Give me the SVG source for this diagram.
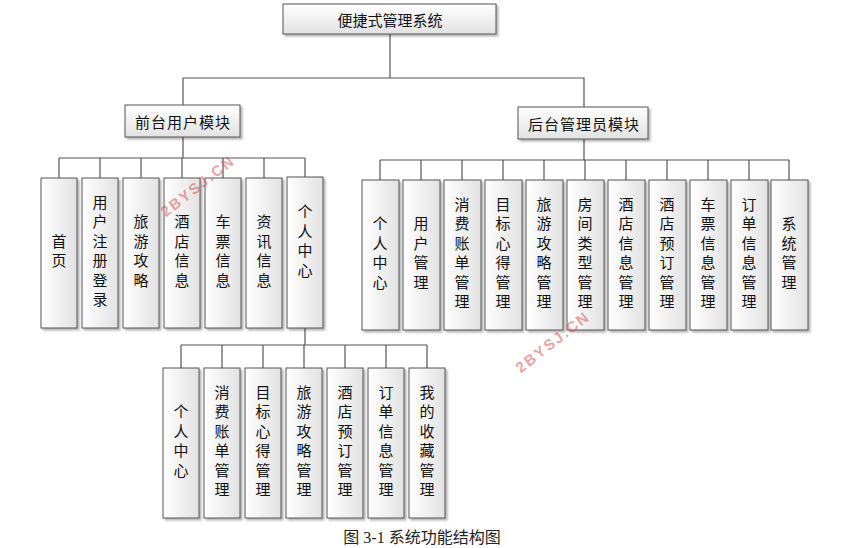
<svg xmlns="http://www.w3.org/2000/svg" width="845" height="548" viewBox="0 0 845 548">
<defs>
<linearGradient id="g" x1="0" y1="0" x2="1" y2="0"><stop offset="0" stop-color="#ffffff"/><stop offset="1" stop-color="#e2e2e2"/></linearGradient>
<linearGradient id="gh" x1="0" y1="0" x2="0" y2="1"><stop offset="0" stop-color="#ffffff"/><stop offset="1" stop-color="#e2e2e2"/></linearGradient>
<filter id="sh" x="-20%" y="-20%" width="150%" height="150%"><feDropShadow dx="2" dy="2" stdDeviation="1" flood-color="#000" flood-opacity="0.3"/></filter>
</defs>
<style>
.b{fill:url(#g);stroke:#555;stroke-width:1;filter:url(#sh)}
.h{fill:url(#gh);stroke:#555;stroke-width:1;filter:url(#sh)}
.t{font-family:"Noto Sans CJK SC","Liberation Sans",sans-serif;font-size:15px;fill:#111;text-anchor:middle;dominant-baseline:central}
.v{writing-mode:vertical-rl;letter-spacing:4.4px}
.c line,.c polyline{stroke:#555;stroke-width:1.2;fill:none}
</style>
<rect width="845" height="548" fill="#fff"/>
<g class="c" id="connectors">
<line x1="390" y1="34" x2="390" y2="78"/>
<polyline points="183,105 183,78 584,78 584,107"/>
<line x1="183" y1="137" x2="183" y2="158"/>
<line x1="59" y1="158" x2="305" y2="158"/>
<line x1="59" y1="158" x2="59" y2="178"/><line x1="100" y1="158" x2="100" y2="178"/><line x1="141" y1="158" x2="141" y2="178"/><line x1="182" y1="158" x2="182" y2="178"/><line x1="223" y1="158" x2="223" y2="178"/><line x1="264" y1="158" x2="264" y2="178"/><line x1="305" y1="158" x2="305" y2="177"/>
<line x1="584" y1="139" x2="584" y2="160"/>
<line x1="380" y1="160" x2="789" y2="160"/>
<line x1="380" y1="160" x2="380" y2="180"/><line x1="421" y1="160" x2="421" y2="180"/><line x1="462" y1="160" x2="462" y2="180"/><line x1="503" y1="160" x2="503" y2="180"/><line x1="544" y1="160" x2="544" y2="180"/><line x1="585" y1="160" x2="585" y2="180"/><line x1="626" y1="160" x2="626" y2="180"/><line x1="667" y1="160" x2="667" y2="180"/><line x1="708" y1="160" x2="708" y2="180"/><line x1="749" y1="160" x2="749" y2="180"/><line x1="789" y1="160" x2="789" y2="180"/>
<line x1="305" y1="328" x2="305" y2="345"/>
<line x1="181" y1="345" x2="427" y2="345"/>
<line x1="181" y1="345" x2="181" y2="368"/><line x1="222" y1="345" x2="222" y2="368"/><line x1="263" y1="345" x2="263" y2="368"/><line x1="304" y1="345" x2="304" y2="368"/><line x1="345" y1="345" x2="345" y2="368"/><line x1="386" y1="345" x2="386" y2="368"/><line x1="427" y1="345" x2="427" y2="368"/>
</g>
<g id="root"><rect class="h" x="283" y="4" width="213" height="30"/><text class="t" x="390" y="19">便捷式管理系统</text></g>
<g id="front"><rect class="h" x="125" y="105" width="115" height="32"/><text class="t" x="183" y="121" style="letter-spacing:1px">前台用户模块</text></g>
<g id="back"><rect class="h" x="518" y="107" width="130" height="32"/><text class="t" x="584" y="123" style="letter-spacing:1px">后台管理员模块</text></g>
<g id="f1"><rect class="b" x="41" y="178" width="36" height="150"/><text class="t v" x="59" y="253">首页</text></g>
<g id="f2"><rect class="b" x="82" y="178" width="36" height="150"/><text class="t v" x="100" y="253">用户注册登录</text></g>
<g id="f3"><rect class="b" x="123" y="178" width="36" height="150"/><text class="t v" x="141" y="253">旅游攻略</text></g>
<g id="f4"><rect class="b" x="164" y="178" width="36" height="150"/><text class="t v" x="182" y="253">酒店信息</text></g>
<g id="f5"><rect class="b" x="205" y="178" width="36" height="150"/><text class="t v" x="223" y="253">车票信息</text></g>
<g id="f6"><rect class="b" x="246" y="178" width="36" height="150"/><text class="t v" x="264" y="253">资讯信息</text></g>
<g id="f7"><rect class="b" x="287" y="177" width="36" height="151"/><text class="t v" x="305" y="243">个人中心</text></g>
<g id="b1"><rect class="b" x="362" y="180" width="37" height="150"/><text class="t v" x="380" y="255">个人中心</text></g>
<g id="b2"><rect class="b" x="403" y="180" width="37" height="150"/><text class="t v" x="421" y="255">用户管理</text></g>
<g id="b3"><rect class="b" x="444" y="180" width="37" height="150"/><text class="t v" x="462" y="255">消费账单管理</text></g>
<g id="b4"><rect class="b" x="485" y="180" width="37" height="150"/><text class="t v" x="503" y="255">目标心得管理</text></g>
<g id="b5"><rect class="b" x="526" y="180" width="37" height="150"/><text class="t v" x="544" y="255">旅游攻略管理</text></g>
<g id="b6"><rect class="b" x="567" y="180" width="37" height="150"/><text class="t v" x="585" y="255">房间类型管理</text></g>
<g id="b7"><rect class="b" x="608" y="180" width="37" height="150"/><text class="t v" x="626" y="255">酒店信息管理</text></g>
<g id="b8"><rect class="b" x="649" y="180" width="37" height="150"/><text class="t v" x="667" y="255">酒店预订管理</text></g>
<g id="b9"><rect class="b" x="690" y="180" width="37" height="150"/><text class="t v" x="708" y="255">车票信息管理</text></g>
<g id="b10"><rect class="b" x="731" y="180" width="37" height="150"/><text class="t v" x="749" y="255">订单信息管理</text></g>
<g id="b11"><rect class="b" x="771" y="180" width="37" height="150"/><text class="t v" x="789" y="255">系统管理</text></g>
<g id="p1"><rect class="b" x="163" y="368" width="36" height="150"/><text class="t v" x="181" y="443">个人中心</text></g>
<g id="p2"><rect class="b" x="204" y="368" width="36" height="150"/><text class="t v" x="222" y="443">消费账单管理</text></g>
<g id="p3"><rect class="b" x="245" y="368" width="36" height="150"/><text class="t v" x="263" y="443">目标心得管理</text></g>
<g id="p4"><rect class="b" x="286" y="368" width="36" height="150"/><text class="t v" x="304" y="443">旅游攻略管理</text></g>
<g id="p5"><rect class="b" x="327" y="368" width="36" height="150"/><text class="t v" x="345" y="443">酒店预订管理</text></g>
<g id="p6"><rect class="b" x="368" y="368" width="36" height="150"/><text class="t v" x="386" y="443">订单信息管理</text></g>
<g id="p7"><rect class="b" x="409" y="368" width="36" height="150"/><text class="t v" x="427" y="443">我的收藏管理</text></g>
<g font-family="Liberation Sans,sans-serif" font-size="15" font-weight="bold" fill="#d9534f" fill-opacity="0.55" text-anchor="middle" letter-spacing="2">
<text transform="translate(201,190) rotate(-38)">2BYSJ.CN</text>
<text transform="translate(556,346) rotate(-38)">2BYSJ.CN</text>
</g>
<text x="422" y="543" font-family="Liberation Serif,'Noto Sans CJK SC',serif" font-size="16" text-anchor="middle" fill="#222">图 3-1 系统功能结构图</text>
</svg>
